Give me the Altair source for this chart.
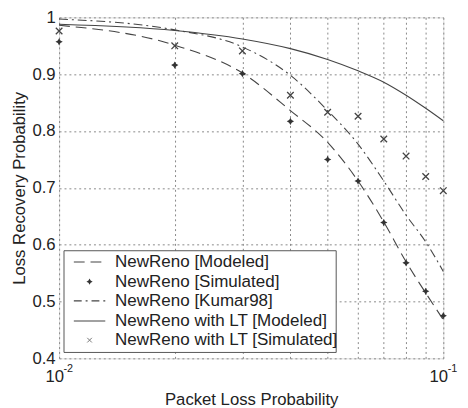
import altair as alt
import pandas as pd

# ---- data ----
p_loss = [0.01, 0.02, 0.03, 0.04, 0.05, 0.06, 0.07, 0.08, 0.09, 0.10]
newreno_modeled = [0.986, 0.951, 0.902, 0.836, 0.780, 0.712, 0.640, 0.570, 0.515, 0.468]
newreno_simulated = [0.957, 0.916, 0.901, 0.817, 0.750, 0.712, 0.639, 0.568, 0.518, 0.475]
newreno_kumar98 = [0.997, 0.978, 0.948, 0.898, 0.836, 0.777, 0.712, 0.652, 0.605, 0.553]
lt_modeled = [0.988, 0.977, 0.962, 0.945, 0.926, 0.906, 0.886, 0.863, 0.840, 0.818]
lt_simulated = [0.976, 0.950, 0.941, 0.863, 0.833, 0.826, 0.786, 0.756, 0.720, 0.695]

legend_labels = ["NewReno [Modeled]", "NewReno [Simulated]", "NewReno [Kumar98]",
                 "NewReno with LT [Modeled]", "NewReno with LT [Simulated]"]

x_ticks = [0.01, 0.02, 0.03, 0.04, 0.05, 0.06, 0.07, 0.08, 0.09, 0.10]
y_ticks = [0.4, 0.5, 0.6, 0.7, 0.8, 0.9, 1.0]
decades = [0.01, 0.1]
exponents = ["-2", "-1"]

FONT = "Liberation Sans"
W, H = 391, 347
LINE_COLOR = "#444444"

df = pd.DataFrame({
    "p": p_loss,
    "nr_mod": newreno_modeled,
    "nr_sim": newreno_simulated,
    "kumar": newreno_kumar98,
    "lt_mod": lt_modeled,
    "lt_sim": lt_simulated,
})
exp_df = pd.DataFrame({"p": decades, "e": exponents, "y": [0.4, 0.4]})

xscale = alt.Scale(type="log", domain=[0.01, 0.1], nice=False)
yscale = alt.Scale(domain=[0.4, 1.0], nice=False, zero=False)

xaxis = alt.Axis(
    values=x_ticks,
    labelExpr="(abs(datum.value-0.01)<1e-9 || abs(datum.value-0.1)<1e-9) ? '10' : ''",
    title="Packet Loss Probability",
    grid=True, gridDash=[2, 3], gridColor="#888888", gridOpacity=1,
    ticks=False, domain=False, labelPadding=11, titlePadding=7, labelOffset=-5,
    labelFont=FONT, titleFont=FONT, labelFontSize=17, titleFontSize=17,
    titleFontWeight="normal", labelColor="#222222", titleColor="#222222",
    labelFlush=False,
)
yaxis = alt.Axis(
    values=y_ticks, format=".1~f",
    title="Loss Recovery Probability",
    grid=True, gridDash=[2, 3], gridColor="#888888", gridOpacity=1,
    ticks=False, domain=False, labelPadding=4, titlePadding=4,
    labelFont=FONT, titleFont=FONT, labelFontSize=17, titleFontSize=17,
    titleFontWeight="normal", labelColor="#222222", titleColor="#222222",
)

base = alt.Chart(df)

def xy(field, src="p"):
    return dict(
        x=alt.X(f"{src}:Q", scale=xscale, axis=xaxis),
        y=alt.Y(f"{field}:Q", scale=yscale, axis=yaxis),
    )

def line(field, dash):
    m = base.mark_line(color=LINE_COLOR, strokeWidth=1.1, interpolate="monotone",
                       **({"strokeDash": dash} if dash else {}))
    return m.encode(**xy(field))

STAR = "M0,-1L0.35,-0.35L1,0L0.35,0.35L0,1L-0.35,0.35L-1,0L-0.35,-0.35Z"
XMARK = "M-1,-1L1,1M-1,1L1,-1"

l_lt = line("lt_mod", None)
l_nr = line("nr_mod", [11, 6])
l_k = line("kumar", [9, 4, 2, 4])

p_nr = base.mark_point(shape=STAR, filled=True, color="#333333", size=55, opacity=1).encode(**xy("nr_sim"))
p_lt = base.mark_point(shape=XMARK, filled=False, color="#444444", size=45, strokeWidth=1.3,
                       opacity=1).encode(**xy("lt_sim"))

# exponent of the decade tick labels (10^-2, 10^-1)
sup = alt.Chart(exp_df).mark_text(align="left", baseline="middle", font=FONT, fontSize=11,
                                  color="#222222", dx=4.5, dy=11).encode(
    x=alt.X("p:Q", scale=xscale, axis=xaxis),
    y=alt.Y("y:Q", scale=yscale, axis=yaxis),
    text="e:N")

# ---- legend (drawn manually, pixel positions inside the plot area) ----
row_y = [249, 269, 288.5, 309, 328.5]
one = pd.DataFrame({"k": [0]})

layers = [l_lt, l_nr, l_k, p_nr, p_lt, sup]
layers.append(alt.Chart(one).mark_rect(fill="white", stroke="#555555", strokeWidth=1).encode(
    x=alt.value(5), x2=alt.value(282), y=alt.value(237.5), y2=alt.value(341)))
layers.append(alt.Chart(one).mark_rule(color=LINE_COLOR, strokeWidth=1.1, strokeDash=[11, 6]).encode(
    x=alt.value(15), x2=alt.value(47), y=alt.value(row_y[0])))
layers.append(alt.Chart(one).mark_point(shape=STAR, filled=True, color="#333333", size=40, opacity=1).encode(
    x=alt.value(31), y=alt.value(row_y[1])))
layers.append(alt.Chart(one).mark_rule(color=LINE_COLOR, strokeWidth=1.1, strokeDash=[8, 4, 2, 4]).encode(
    x=alt.value(15), x2=alt.value(47), y=alt.value(row_y[2])))
layers.append(alt.Chart(one).mark_rule(color=LINE_COLOR, strokeWidth=1.1).encode(
    x=alt.value(15), x2=alt.value(47), y=alt.value(row_y[3])))
layers.append(alt.Chart(one).mark_point(shape=XMARK, filled=False, color="#777777", size=22,
                                        strokeWidth=1, opacity=1).encode(
    x=alt.value(31), y=alt.value(row_y[4])))
for lab, ry in zip(legend_labels, row_y):
    layers.append(alt.Chart(one).mark_text(align="left", baseline="middle", font=FONT,
                                           fontSize=17.3, color="#222222").encode(
        x=alt.value(57), y=alt.value(ry), text=alt.value(lab)))

chart = alt.layer(*layers).properties(
    width=W, height=H,
    autosize=alt.AutoSizeParams(type="none"),
    padding={"left": 52, "top": 6, "right": 17, "bottom": 47},
).configure_view(stroke="#777777", strokeWidth=1).configure(background="white")

chart.save("out.html", embed_options={"renderer": "svg", "actions": False})
